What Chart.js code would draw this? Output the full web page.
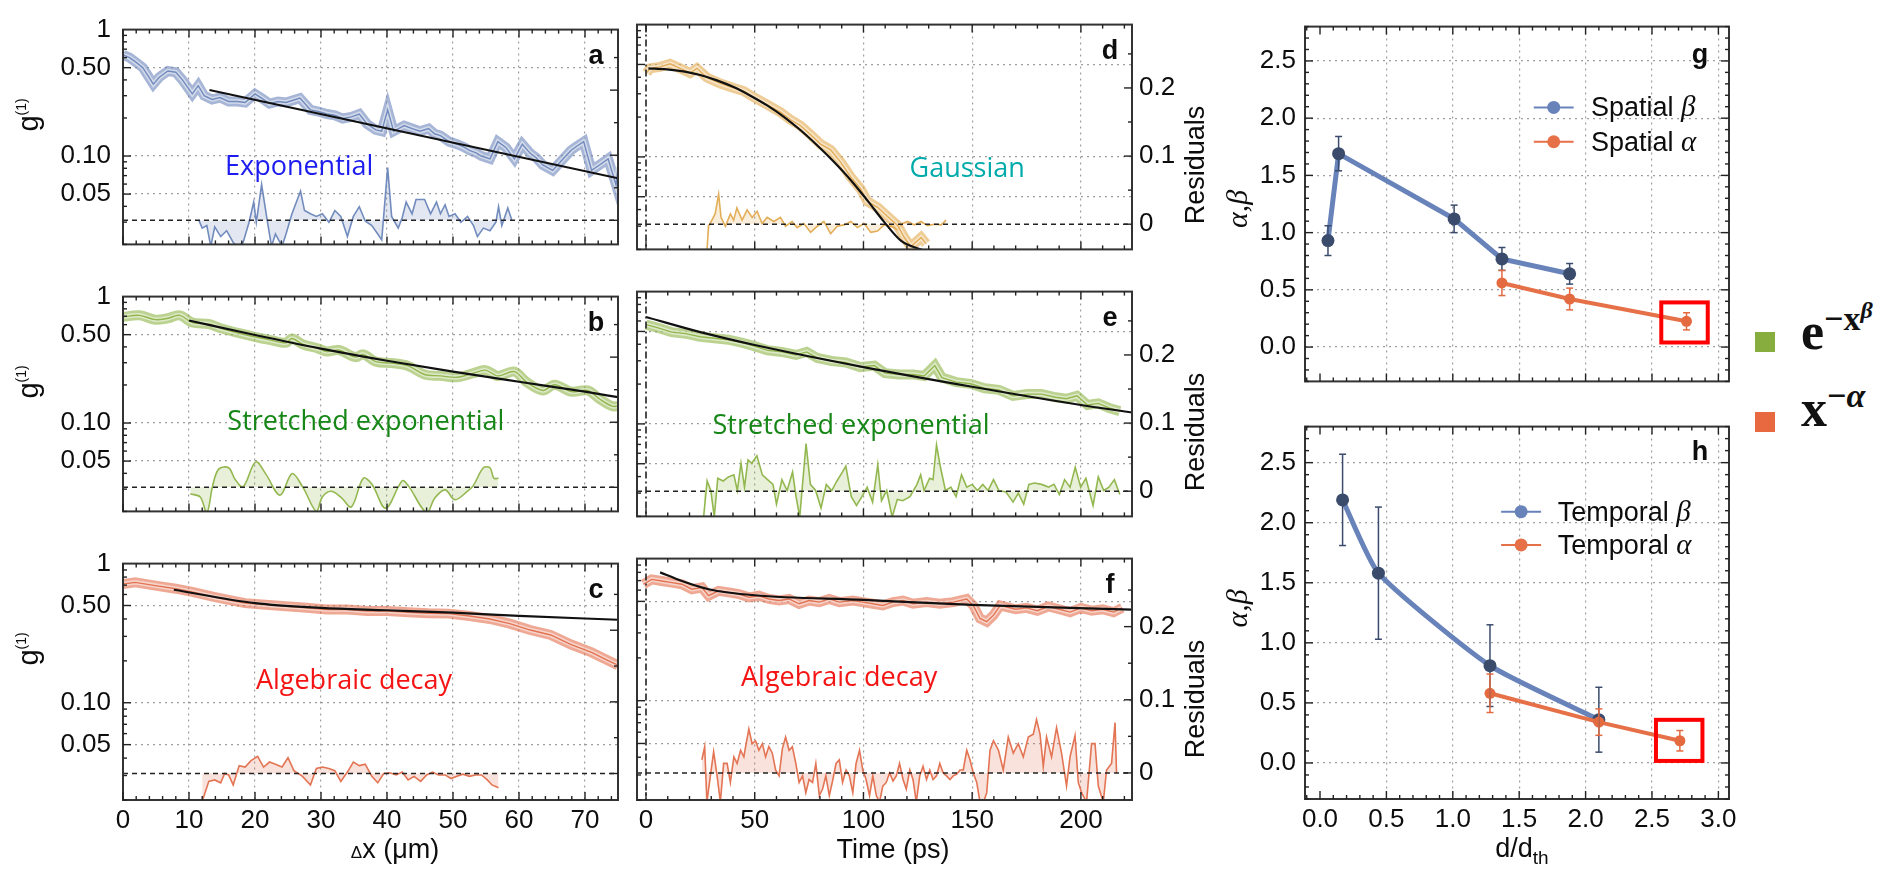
<!DOCTYPE html>
<html>
<head>
<meta charset="utf-8">
<script src="https://cdn.jsdelivr.net/npm/chart.js@4.4.1/dist/chart.umd.min.js"></script>
<style>
  html, body { margin: 0; padding: 0; background: #fff; }
  body { width: 1895px; height: 870px; position: relative; overflow: hidden; }
  canvas { position: absolute; }
  .sw { position: absolute; width: 20px; height: 20px; }
  .kt { position: absolute; font: bold 52px 'Liberation Serif', 'DejaVu Serif', serif; line-height: 52px; color: #111; white-space: nowrap; }
  .kt .s1 { font-size: 34px; position: relative; top: -19px; }
  .kt .s2 { font-size: 24px; position: relative; top: -12px; font-style: italic; }
</style>
</head>
<body>
<canvas id="pa"></canvas>
<canvas id="pb"></canvas>
<canvas id="pc"></canvas>
<canvas id="pd"></canvas>
<canvas id="pe"></canvas>
<canvas id="pf"></canvas>
<canvas id="pg"></canvas>
<canvas id="ph"></canvas>

<div class="sw" style="left:1755px;top:332px;background:#86ad3e"></div>
<div class="sw" style="left:1755px;top:412px;background:#e8693f"></div>
<div class="kt" style="left:1801px;top:306px">e<span class="s1">−x<span class="s2">β</span></span></div>
<div class="kt" style="left:1801px;top:383px">x<span class="s1">−<i>α</i></span></div>

<script>
// ---- values ----
// tick values
const gTicks = [0.05, 0.1, 0.5, 1];
const resTicks = [0, 0.1, 0.2];

// a: exponential (spatial)
const aX = [0, 1, 2, 3, 4.6, 5.5, 6.8, 8, 9, 10.5, 11.4, 12.3, 13.5, 14.7, 16, 17.3, 18.5, 20, 21, 22.2,
  23.5, 24.7, 26.8, 28.4, 29.6, 30.9, 32.1, 33.3, 34.6, 35.8, 37, 38.3, 39.2, 40.1, 41, 42.6, 43.8, 45, 46.3, 47.2,
  48.1, 49.4, 50.6, 51.6, 52.5, 53.5, 54.3, 55.6, 56.8, 58, 59.3, 60.5, 61.7, 62.6, 63.6, 65.1, 66.7, 67.9, 68.8, 69.8,
  71, 72.2, 73.5, 74.7, 75];
const aG = [0.63, 0.60, 0.55, 0.50, 0.37, 0.42, 0.47, 0.46, 0.40, 0.31, 0.36, 0.30, 0.28, 0.29, 0.27, 0.27, 0.265, 0.31, 0.287, 0.26,
  0.27, 0.265, 0.287, 0.232, 0.225, 0.215, 0.21, 0.198, 0.204, 0.215, 0.179, 0.161, 0.157, 0.232, 0.157, 0.174, 0.165, 0.157, 0.165, 0.150,
  0.145, 0.130, 0.124, 0.118, 0.111, 0.106, 0.100, 0.095, 0.130, 0.117, 0.095, 0.124, 0.105, 0.097, 0.085, 0.077, 0.095, 0.111, 0.120, 0.130,
  0.077, 0.085, 0.095, 0.059, 0.081];
const aFitX = [13.1, 75];
const aFitG = [0.333, 0.0667];
const aResX = [11.5, 12.0, 12.7, 13.3, 13.9, 14.8, 15.7, 16.7, 17.3, 18.2,
  19.1, 19.8, 20.2, 21.0, 21.9, 22.5, 23.1, 24.1, 24.7, 25.6,
  26.9, 27.5, 28.4, 29.3, 30.2, 31.2, 32.1, 33.0, 34.0, 34.9,
  35.8, 36.7, 37.7, 38.6, 39.2, 40.1, 40.7, 41.7, 42.3, 42.9,
  43.8, 44.4, 45.7, 46.6, 47.5, 48.1, 48.8, 49.4, 50.3, 51.2,
  52.2, 53.1, 53.7, 54.6, 55.6, 56.5, 56.9, 57.4, 58.3, 58.9];
const aRes = [0, -0.012, -0.008, -0.04, -0.010, -0.025, -0.016, -0.034, -0.04, -0.034,
  -0.003, 0.028, -0.003, 0.055, -0.003, -0.04, -0.021, -0.04, -0.021, 0.010,
  0.045, 0.015, 0.010, 0.006, 0.010, -0.003, 0.015, 0.006, -0.025, 0.006,
  0.021, -0.001, -0.008, -0.021, -0.030, 0.081, 0.006, -0.012, 0.004, 0.028,
  0.010, 0.032, 0.032, 0.010, 0.028, 0.010, 0.024, 0.006, 0.010, -0.003,
  0.006, -0.008, -0.025, -0.012, -0.016, -0.003, 0.021, -0.008, 0.019, 0.001];

// b: stretched exponential (spatial)
const bX = [0, 2.5, 4.9, 6.8, 8.6, 10.5, 13.0, 14.8, 17.3, 20.1,
  22.2, 24.7, 25.6, 27.2, 29.6, 30.9, 32.7, 35.2, 36.4, 38.3,
  40.7, 43.2, 45.7, 48.1, 50.6, 53.1, 54.9, 56.8, 59.3, 61.1,
  63.6, 65.4, 67.9, 70.4, 72.2, 74.1, 75];
const bG = [0.692, 0.711, 0.657, 0.674, 0.711, 0.623, 0.607, 0.561, 0.518, 0.479,
  0.455, 0.431, 0.466, 0.420, 0.388, 0.368, 0.378, 0.332, 0.349, 0.306,
  0.298, 0.283, 0.242, 0.236, 0.230, 0.248, 0.262, 0.236, 0.255, 0.212,
  0.181, 0.201, 0.177, 0.181, 0.155, 0.136, 0.136];
const bFitX = [10, 20, 30, 40, 50, 60, 70, 75];
const bFitG = [0.647, 0.497, 0.388, 0.311, 0.255, 0.212, 0.177, 0.16];
const bResX = [10.2, 11.7, 12.7, 13.6, 14.5, 16.0, 17.0, 18.2, 20.1, 21.6,
  23.8, 25.6, 27.2, 29.3, 30.2, 31.5, 33.0, 34.6, 36.4, 37.7,
  39.8, 42.3, 43.2, 46.0, 47.2, 48.8, 50.3, 52.2, 53.1, 54.6,
  55.6, 56.2, 56.9];
const bRes = [-0.010, -0.015, -0.039, 0.003, 0.028, 0.030, 0.012, 0.001, 0.039, 0.021,
  -0.012, 0.021, 0.001, -0.037, -0.015, -0.006, -0.015, -0.030, 0.014, 0.005,
  -0.032, 0.010, 0.003, -0.039, -0.017, -0.004, -0.019, -0.006, 0.003, 0.030,
  0.030, 0.014, 0.014];

// c: algebraic decay (spatial)
const cX = [0, 1.85, 4.9, 8.0, 10.5, 13.6, 16.0, 18.5, 21.6, 24.7,
  27.8, 30.9, 34.0, 37.0, 40.1, 43.2, 46.3, 49.4, 52.5, 55.6,
  58.6, 61.7, 64.8, 67.9, 71.0, 73.5, 75];
const cG = [0.714, 0.733, 0.695, 0.660, 0.626, 0.578, 0.548, 0.520, 0.507, 0.494,
  0.481, 0.468, 0.468, 0.456, 0.456, 0.447, 0.440, 0.437, 0.42, 0.40,
  0.37, 0.333, 0.307, 0.262, 0.230, 0.201, 0.186];
const cFitX = [7.7, 20, 30, 40, 50, 60, 75];
const cFitG = [0.649, 0.52, 0.481, 0.462, 0.444, 0.421, 0.395];
const cResX = [12.0, 13.0, 13.9, 14.8, 15.4, 16.0, 16.7, 17.6, 18.5, 19.4,
  20.4, 21.3, 22.2, 23.1, 24.1, 25.0, 25.9, 27.2, 28.4, 29.3,
  30.2, 31.2, 32.1, 33.0, 34.0, 34.9, 35.8, 36.7, 37.7, 38.6,
  39.5, 40.4, 41.4, 42.3, 43.2, 44.1, 45.1, 46.0, 46.9, 47.8,
  48.8, 49.7, 50.6, 51.5, 52.5, 53.4, 54.3, 55.2, 55.9, 56.9];
const cRes = [-0.039, -0.011, -0.009, -0.013, 0, -0.002, -0.016, 0.011, 0.009, 0.018,
  0.024, 0.009, 0.016, 0.013, 0.009, 0.022, 0.004, -0.004, -0.016, 0.007,
  0.009, 0.007, 0.004, -0.011, 0.002, 0.016, 0.011, 0.013, -0.004, -0.013,
  0, 0.001, -0.002, 0.002, -0.009, -0.004, -0.011, -0.002, 0.002, -0.002,
  -0.002, -0.007, -0.004, -0.001, -0.004, -0.002, -0.002, -0.009, -0.016, -0.020];

// d: gaussian (temporal)
const dT = [0.3, 1.8, 6.5, 11.1, 15.7, 20.3, 23.4, 28, 34.2, 40.3,
  44.9, 49.5, 55.7, 61.8, 66.5, 71.1, 75.7, 80.3, 84.9, 89.5,
  94.2, 98.8, 101.8, 106.5, 111.1, 115.7, 118.8, 121.8, 126.5, 128.8];
const dG = [0.431, 0.467, 0.479, 0.505, 0.467, 0.431, 0.467, 0.398, 0.359, 0.332,
  0.315, 0.283, 0.248, 0.218, 0.191, 0.172, 0.147, 0.125, 0.113, 0.0914,
  0.0703, 0.057, 0.0461, 0.0416, 0.0355, 0.0303, 0.0246, 0.021, 0.0246, 0.0221];
const dFitT = [1.1, 9.5, 17.2, 24.9, 32.6, 40.3, 48, 55.7, 63.4, 71.1, 78.8, 86.5, 94.2, 101.8, 109.5, 117.2, 128];
const dFitG = [0.467, 0.459, 0.443, 0.416, 0.379, 0.337, 0.29, 0.245, 0.201, 0.159, 0.122, 0.0915, 0.0667, 0.0469, 0.0323, 0.0233, 0.0195];
const dResT = [28.0, 28.8, 30.3, 31.8, 33.4, 34.5, 36.5, 38.8, 40.3, 41.8,
  44.2, 46.5, 48.8, 51.1, 53.4, 55.7, 58.8, 61.8, 64.2, 67.2,
  69.5, 72.6, 75.7, 78.8, 81.8, 84.9, 88.0, 91.1, 94.2, 97.2,
  100.3, 103.4, 106.5, 109.5, 112.6, 115.7, 118.0, 120.3, 123.4, 126.5,
  129.5, 132.6, 135.7, 138.0];
const dRes = [-0.04, -0.003, 0.006, 0.015, 0.044, 0.010, -0.003, 0.015, 0.006, 0.024,
  0.006, 0.021, 0.010, 0.019, 0.001, 0.010, 0.004, 0.010, -0.003, 0.004,
  -0.005, 0.001, -0.012, -0.003, 0.004, -0.014, -0.003, -0.001, 0.004, -0.005,
  0.001, -0.012, -0.010, -0.001, -0.003, -0.008, 0.001, 0.004, -0.001, 0.004,
  -0.002, 0, -0.001, 0.006];

// e: stretched exponential (temporal)
const eT = [0, 5.2, 11.8, 18.3, 24.9, 31.4, 37.9, 44.5, 49.4, 55.9,
  62.5, 69.0, 73.9, 78.8, 85.4, 91.9, 98.5, 105.0, 109.9, 116.5,
  123.0, 127.9, 132.8, 136.1, 142.6, 149.2, 155.7, 162.3, 168.8, 175.3,
  181.9, 188.4, 193.3, 198.2, 203.1, 208.0, 213.0, 217.9];
const eG = [0.563, 0.534, 0.494, 0.481, 0.456, 0.444, 0.433, 0.410, 0.389, 0.360,
  0.350, 0.332, 0.350, 0.315, 0.299, 0.291, 0.269, 0.276, 0.242, 0.236,
  0.236, 0.230, 0.276, 0.224, 0.207, 0.201, 0.186, 0.181, 0.163, 0.168,
  0.168, 0.159, 0.155, 0.163, 0.139, 0.143, 0.132, 0.125];
const eFitT = [0, 25, 50, 100, 150, 200, 223.5];
const eFitG = [0.643, 0.494, 0.395, 0.269, 0.191, 0.139, 0.122];
const eResT = [26.5, 28.1, 29.8, 31.4, 33.0, 35.5, 37.9, 40.4, 42.0, 43.7,
  45.3, 46.9, 48.6, 51.0, 53.5, 55.9, 58.4, 60.0, 62.5, 64.9,
  67.4, 69.0, 70.7, 73.6, 75.6, 78.0, 80.5, 82.9, 85.4, 87.8,
  90.3, 91.9, 94.4, 96.8, 99.3, 101.7, 104.2, 106.6, 108.3, 110.7,
  113.2, 115.6, 118.1, 121.4, 124.6, 126.3, 127.9, 130.4, 132.0, 133.6,
  135.3, 137.7, 140.2, 142.6, 145.1, 147.5, 150.0, 152.4, 154.9, 157.3,
  159.8, 162.3, 165.5, 168.8, 171.2, 173.7, 176.1, 178.6, 181.9, 185.1,
  187.6, 190.1, 192.5, 195.0, 197.4, 199.9, 202.3, 205.6, 208.0, 210.5,
  212.9, 215.4, 217.9];
const eRes = [-0.038, 0.015, 0.001, -0.038, 0.019, 0.015, 0.021, 0.024, 0.001, 0.041,
  0.006, 0.046, 0.041, 0.052, 0.024, 0.017, 0.010, -0.019, 0.017, 0.001,
  0.028, -0.008, -0.038, 0.070, 0.010, 0.001, -0.025, 0.010, 0.001, 0.015,
  0.028, 0.037, -0.008, -0.021, -0.008, 0.006, -0.016, 0.039, -0.014, 0.001,
  -0.038, -0.012, -0.014, -0.008, 0.010, 0.024, 0.001, 0.019, 0.017, 0.068,
  0.037, 0.001, 0.006, -0.008, 0.024, 0.006, 0.010, 0.001, 0.010, 0.001,
  0.017, 0.001, -0.001, -0.016, -0.003, -0.019, 0.010, 0.012, 0.010, 0.006,
  0.010, -0.005, 0.017, 0.006, 0.035, 0.006, 0.019, -0.021, 0.021, 0.001,
  0.006, 0.017, -0.005];

// f: algebraic decay (temporal)
const fT = [-1.2, 2.6, 7.2, 11.9, 16.5, 21.1, 25.7, 28.8, 33.4, 38.1,
  42.7, 47.3, 51.9, 56.5, 61.2, 65.8, 70.4, 75.0, 79.7, 84.3,
  88.9, 95.1, 99.7, 104.3, 108.9, 113.6, 118.2, 122.8, 129.0, 135.1,
  141.3, 147.5, 150.5, 153.6, 156.7, 159.8, 162.9, 165, 170, 175,
  180, 185, 190, 195, 200, 205, 210, 215, 219];
const fG = [0.660, 0.714, 0.695, 0.677, 0.660, 0.609, 0.626, 0.548, 0.593, 0.578,
  0.563, 0.534, 0.548, 0.520, 0.507, 0.520, 0.481, 0.507, 0.494, 0.520,
  0.494, 0.507, 0.494, 0.481, 0.468, 0.494, 0.507, 0.481, 0.494, 0.481,
  0.494, 0.520, 0.468, 0.379, 0.360, 0.400, 0.468, 0.46, 0.44, 0.45,
  0.43, 0.46, 0.44, 0.42, 0.45, 0.43, 0.44, 0.42, 0.45];
const fFitT = [6.5, 16.5, 28.8, 50, 100, 150, 223.5];
const fFitG = [0.80, 0.695, 0.609, 0.552, 0.512, 0.473, 0.438];
const fResT = [25.7, 27.0, 28.0, 29.6, 31.1, 32.7, 34.2, 35.7, 37.3, 38.8,
  40.4, 41.9, 43.5, 45.0, 45.8, 47.3, 48.8, 50.4, 51.9, 53.5,
  55.0, 56.5, 58.1, 59.6, 61.2, 62.7, 64.2, 65.8, 67.3, 68.9,
  70.4, 72.0, 73.5, 75.0, 76.6, 78.1, 79.7, 81.2, 82.7, 84.3,
  85.8, 87.4, 88.9, 90.4, 92.0, 93.5, 95.1, 96.6, 98.2, 99.7,
  101.2, 102.8, 104.3, 105.9, 107.4, 108.9, 110.5, 112.0, 113.6, 115.1,
  116.6, 118.2, 119.7, 121.3, 122.8, 124.3, 125.9, 127.4, 129.0, 130.5,
  132.0, 133.6, 135.1, 136.7, 138.2, 139.8, 141.3, 142.8, 144.4, 145.9,
  147.5, 149.0, 150.5, 152.1, 153.6, 155.2, 156.7, 158.2, 159.8, 162.1,
  164.3, 166.6, 168.9, 171.2, 173.5, 175.8, 178.1, 179.6, 181.2, 182.7,
  184.2, 186.5, 188.8, 191.1, 193.4, 195.0, 197.3, 198.8, 200.3, 202.6,
  204.9, 206.5, 208.0, 210.3, 211.8, 214.1, 215.7, 216.4];
const fRes = [0.018, 0.036, -0.04, -0.004, 0.029, -0.004, -0.04, 0.013, 0.013, -0.013,
  0.022, 0.013, 0.031, 0.022, 0.036, 0.060, 0.040, 0.044, 0.031, 0.040,
  0.022, 0.036, 0.027, 0.004, -0.004, 0.033, 0.049, 0.031, 0.036, 0.013,
  -0.013, -0.004, -0.027, -0.009, -0.013, 0.013, -0.031, -0.022, -0.004, -0.031,
  -0.011, 0.013, 0.018, -0.013, 0.004, -0.004, -0.027, 0.013, 0.031, 0.004,
  -0.009, -0.031, -0.004, -0.031, -0.04, -0.018, -0.013, 0, -0.011, -0.004,
  0.013, -0.009, -0.022, 0.004, -0.009, -0.04, -0.004, 0.009, -0.009, 0.004,
  -0.009, -0.004, 0.013, 0, -0.004, -0.009, -0.004, -0.002, 0.004, 0.004,
  0.031, 0.018, 0, -0.013, -0.04, -0.04, -0.027, 0.031, 0.044, 0.031,
  0.004, 0.049, 0.027, 0.040, 0.022, 0.049, 0.053, 0.073, 0.053, 0.009,
  0.049, 0.022, 0.062, 0.027, -0.018, 0.022, 0.051, -0.013, -0.027, -0.04,
  0.040, 0.040, -0.018, -0.04, 0.004, 0.013, 0.069, 0];

// g: spatial exponents vs d/d_th
const gBetaX = [0.06, 0.14, 1.01, 1.37, 1.88];
const gBeta = [0.93, 1.69, 1.12, 0.77, 0.64];
const gBetaErr = [0.13, 0.15, 0.12, 0.10, 0.09];
const gAlphaX = [1.37, 1.88, 2.76];
const gAlpha = [0.56, 0.42, 0.225];
const gAlphaErr = [0.11, 0.095, 0.075];
// h: temporal exponents vs d/d_th
const hBetaX = [0.17, 0.44, 1.28, 2.10];
const hBeta = [2.19, 1.58, 0.81, 0.36];
const hBetaErr = [0.38, 0.55, 0.34, 0.27];
const hAlphaX = [1.28, 2.10, 2.71];
const hAlpha = [0.58, 0.34, 0.185];
const hAlphaErr = [0.16, 0.11, 0.085];

// ---- styling ----
const SANS = "'Liberation Sans', Arial, sans-serif";
const SERIF = "'Liberation Serif', 'DejaVu Serif', serif";
const NOTE = "'Open Sans', sans-serif";
const INK = '#0d0d0d';
const GRID = 'rgba(80,80,80,0.55)';
const CLEAR = 'rgba(0,0,0,0)';
const BLUE = [108, 134, 186], GREEN = [142, 180, 72], GOLD = [226, 170, 80], RED = [226, 110, 76];
const LINE_B = 'rgb(104,131,186)', NAVY = 'rgb(58,75,108)', LINE_O = 'rgb(230,112,72)', ORANGE = 'rgb(228,106,64)';
const ROWS = [18, 285, 552];

const rgba = (c, a) => `rgba(${c[0]},${c[1]},${c[2]},${a})`;
const pts = (xs, ys) => xs.slice(0, Math.min(xs.length, ys.length)).map((x, i) => ({ x: x, y: ys[i] }));

function rich(ctx, parts, x, y, rot, align) {
  ctx.save();
  ctx.translate(x, y);
  if (rot) ctx.rotate(rot);
  ctx.fillStyle = INK;
  ctx.textAlign = 'left';
  ctx.textBaseline = 'alphabetic';
  let w = 0;
  parts.forEach(p => { ctx.font = p.f; w += ctx.measureText(p.t).width; });
  let cx = align === 'left' ? 0 : -w / 2;
  parts.forEach(p => { ctx.font = p.f; ctx.fillText(p.t, cx, p.dy || 0); cx += ctx.measureText(p.t).width; });
  ctx.restore();
}

function seg(ctx, x1, y1, x2, y2) {
  ctx.beginPath(); ctx.moveTo(x1, y1); ctx.lineTo(x2, y2); ctx.stroke();
}

function steps(min, max, step) {
  const out = [];
  for (let v = Math.ceil(min / step - 1e-9) * step; v <= max + 1e-9; v += step) out.push(+v.toFixed(6));
  return out;
}
const isMult = (v, m) => Math.abs(v / m - Math.round(v / m)) < 1e-6;

// per-canvas extras: frame, inward ticks, reference lines, labels
const extras = {};
const deco = {
  id: 'deco',
  afterDatasetsDraw(chart) {
    const e = extras[chart.canvas.id];
    if (!e) return;
    const { ctx, chartArea: ca, scales } = chart;
    const ox = chart.canvas.offsetLeft, oy = chart.canvas.offsetTop;
    ctx.save();
    ctx.strokeStyle = '#222';
    ctx.lineWidth = 1.6;
    if (e.zero) {
      const y = scales.res.getPixelForValue(0);
      ctx.setLineDash([5, 4]);
      seg(ctx, ca.left, y, ca.right, y);
    }
    if (e.vzero) {
      const x = scales.x.getPixelForValue(0);
      ctx.setLineDash([7, 3, 2, 3]);
      seg(ctx, x, ca.top, x, ca.bottom);
    }
    ctx.setLineDash([]);

    if (e.err) {
      chart.data.datasets.forEach(ds => {
        if (!ds.errs) return;
        ctx.strokeStyle = ds.errColor;
        ctx.lineWidth = 1.5;
        ds.data.forEach((p, j) => {
          const x = scales.x.getPixelForValue(p.x);
          const y1 = scales.y.getPixelForValue(p.y - ds.errs[j]);
          const y2 = scales.y.getPixelForValue(p.y + ds.errs[j]);
          seg(ctx, x, y1, x, y2);
          seg(ctx, x - 3.5, y1, x + 3.5, y1);
          seg(ctx, x - 3.5, y2, x + 3.5, y2);
        });
      });
    }

    if (e.box) {
      const b = e.box;
      const x1 = scales.x.getPixelForValue(b.x1), x2 = scales.x.getPixelForValue(b.x2);
      const y1 = scales.y.getPixelForValue(b.y2), y2 = scales.y.getPixelForValue(b.y1);
      ctx.strokeStyle = 'rgb(255,0,0)';
      ctx.lineWidth = 4;
      ctx.strokeRect(x1, y1, x2 - x1, y2 - y1);
    }

    if (e.legend) {
      const L = e.legend;
      L.items.forEach(it => {
        const y = scales.y.getPixelForValue(it.y);
        const x1 = scales.x.getPixelForValue(L.x1), x2 = scales.x.getPixelForValue(L.x2);
        ctx.strokeStyle = it.color; ctx.lineWidth = 2;
        seg(ctx, x1, y, x2, y);
        ctx.fillStyle = it.color;
        ctx.beginPath(); ctx.arc((x1 + x2) / 2, y, 6.5, 0, Math.PI * 2); ctx.fill();
        rich(ctx, [{ t: it.label, f: `27px ${SANS}` }, { t: it.greek, f: `italic 29px ${SERIF}` }],
          scales.x.getPixelForValue(L.xt), y + 9, 0, 'left');
      });
    }

    // frame
    ctx.strokeStyle = '#333';
    ctx.lineWidth = 2;
    ctx.strokeRect(ca.left, ca.top, ca.right - ca.left, ca.bottom - ca.top);

    // inward ticks
    ctx.lineWidth = 1.4;
    ctx.strokeStyle = '#222';
    const xs = scales.x;
    steps(xs.min, xs.max, e.xMinor).forEach(v => {
      const x = xs.getPixelForValue(v);
      const len = isMult(v, e.xMajor) ? 8 : 4;
      seg(ctx, x, ca.bottom, x, ca.bottom - len);
      seg(ctx, x, ca.top, x, ca.top + len);
    });
    const ys = scales.y;
    if (e.logY) {
      [0.01, 0.1].forEach(d => {
        for (let k = 1; k <= 9; k++) {
          const v = +(k * d).toFixed(4);
          if (v < ys.min || v > ys.max) continue;
          const y = ys.getPixelForValue(v);
          const len = gTicks.indexOf(v) >= 0 ? 8 : 4;
          seg(ctx, ca.left, y, ca.left + len, y);
        }
      });
      const rs = scales.res;
      steps(rs.min, rs.max, 0.05).forEach(v => {
        const y = rs.getPixelForValue(v);
        const len = isMult(v, 0.1) ? 8 : 4;
        seg(ctx, ca.right, y, ca.right - len, y);
      });
    } else {
      steps(ys.min, ys.max, e.yMinor).forEach(v => {
        const y = ys.getPixelForValue(v);
        const len = isMult(v, e.yMajor) ? 8 : 4;
        seg(ctx, ca.left, y, ca.left + len, y);
        seg(ctx, ca.right, y, ca.right - len, y);
      });
    }

    // panel letter
    if (e.letter) {
      ctx.fillStyle = INK;
      ctx.font = `bold 27px ${SANS}`;
      ctx.textAlign = 'center';
      ctx.textBaseline = 'middle';
      ctx.fillText(e.letter, ca.right - e.letterDx, ca.top + e.letterDy);
    }

    // decay-law note
    if (e.note) {
      ctx.fillStyle = e.note.color;
      ctx.font = `27px ${NOTE}`;
      ctx.textAlign = 'center';
      ctx.textBaseline = 'middle';
      ctx.fillText(e.note.text, xs.getPixelForValue(e.note.x), ys.getPixelForValue(e.note.y));
    }

    // axis titles (page coordinates)
    (e.titles || []).forEach(t => rich(ctx, t.parts, t.x - ox, t.y - oy, t.rot || 0));
    ctx.restore();
  }
};

function decayPanel(p) {
  const mid = p.col === 'mid';
  const bottom = p.row === 2;
  const yW = mid ? 10 : 123, rW = mid ? 78 : 0, padR = mid ? 0 : 10;
  const cv = document.getElementById(p.id);
  cv.width = yW + 495 + rW + padR;
  cv.height = 16 + 248 + (bottom ? 70 : 6);
  cv.style.left = (mid ? 627 : 0) + 'px';
  cv.style.top = (ROWS[p.row] - 16) + 'px';

  const titles = [];
  if (!mid) {
    titles.push({ parts: [{ t: 'g', f: `29px ${SANS}` }, { t: '(1)', f: `14px ${SANS}`, dy: -12 }],
      x: 38, y: ROWS[p.row] + 97, rot: -Math.PI / 2 });
  } else {
    titles.push({ parts: [{ t: 'Residuals', f: `27px ${SANS}` }], x: 1204, y: ROWS[p.row] + 147, rot: -Math.PI / 2 });
  }
  if (p.xTitle) titles.push(p.xTitle);
  extras[p.id] = { zero: true, vzero: mid, xMinor: mid ? 10 : 2, xMajor: mid ? 50 : 10, logY: true,
    letter: p.letter, letterDx: 22, letterDy: 27, note: p.note, titles: titles };

  const c = p.color;
  const tick = { family: SANS, size: 26 };
  new Chart(cv, {
    type: 'line',
    data: {
      datasets: [
        { data: pts(p.fitX, p.fitY), borderColor: '#111', borderWidth: 2.2, pointRadius: 0, order: 0,
          cubicInterpolationMode: 'monotone', clip: 0 },
        { data: pts(p.x, p.y), borderColor: rgba(c, 0.95), borderWidth: 1.4, pointRadius: 0, order: 1,
          tension: p.tension || 0, clip: 0 },
        { data: pts(p.x, p.y), borderColor: 'rgba(255,255,255,0.5)', borderWidth: 4.5, pointRadius: 0, order: 2,
          tension: p.tension || 0, clip: 0 },
        { data: pts(p.x, p.y), borderColor: rgba(c, 0.6), borderWidth: 10, pointRadius: 0, order: 3,
          tension: p.tension || 0, clip: 0 },
        { data: pts(p.resX, p.res), yAxisID: 'res', borderColor: rgba(c, 0.95), borderWidth: 1.6, pointRadius: 0,
          order: 4, tension: p.tension || 0, fill: { value: 0 }, backgroundColor: rgba(c, 0.2), clip: 0 }
      ]
    },
    options: {
      responsive: false,
      animation: false,
      events: [],
      layout: { padding: { top: 16, left: 0, right: padR, bottom: bottom ? 0 : 6 } },
      plugins: { legend: { display: false }, tooltip: { enabled: false } },
      scales: {
        x: {
          type: 'linear', min: mid ? -4.14 : 0, max: mid ? 223.5 : 75,
          ticks: { stepSize: mid ? 50 : 10, includeBounds: false, display: bottom, maxRotation: 0,
            autoSkip: false, padding: 5, font: tick, color: INK },
          grid: { drawTicks: false, lineWidth: 1.2,
            color: g => (g.tick && Math.abs(g.tick.value) < 1e-9) ? CLEAR : GRID },
          border: { display: false, dash: [2, 4] },
          afterFit: s => { s.height = bottom ? 70 : 0; }
        },
        y: {
          type: 'logarithmic', position: 'left', min: 0.02, max: 1,
          afterBuildTicks: s => { s.ticks = gTicks.map(v => ({ value: v })); },
          ticks: { display: !mid, font: tick, color: INK, padding: 12,
            callback: v => (v === 1 ? '1' : Number(v).toFixed(2)) },
          grid: { drawTicks: false, lineWidth: 1.2,
            color: g => (g.tick && g.tick.value === 1) ? CLEAR : GRID },
          border: { display: false, dash: [2, 4] },
          afterFit: s => { s.width = yW; }
        },
        res: {
          type: 'linear', axis: 'y', position: 'right', min: -0.037, max: 0.293, display: mid,
          afterBuildTicks: s => { s.ticks = resTicks.map(v => ({ value: v })); },
          ticks: { font: tick, color: INK, padding: 7,
            callback: v => (v === 0 ? '0' : Number(v).toFixed(1)) },
          grid: { display: false, drawTicks: false },
          border: { display: false },
          afterFit: s => { s.width = rW; }
        }
      }
    },
    plugins: [deco]
  });
}

function ratioPanel(p) {
  const bottom = p.id === 'ph';
  const frameTop = bottom ? 418 : 18, frameH = bottom ? 381 : 382;
  const cv = document.getElementById(p.id);
  cv.width = 80 + 424 + 16;
  cv.height = 16 + frameH + (bottom ? 70 : 6);
  cv.style.left = '1225px';
  cv.style.top = (frameTop - 16) + 'px';
  const titles = [{ parts: [{ t: 'α,β', f: `italic 30px ${SERIF}` }], x: 1247, y: frameTop + frameH / 2, rot: -Math.PI / 2 }];
  if (bottom) {
    titles.push({ parts: [{ t: 'd/d', f: `27px ${SANS}` }, { t: 'th', f: `19px ${SANS}`, dy: 7 }], x: 1522, y: 857 });
  }
  extras[p.id] = {
    err: true, xMinor: 0.1, xMajor: 0.5, yMinor: 0.1, yMajor: 0.5,
    letter: p.letter, letterDx: 29, letterDy: bottom ? 26 : 29,
    box: p.box, legend: p.legend, titles: titles
  };
  const tick = { family: SANS, size: 26 };
  new Chart(cv, {
    type: 'line',
    data: {
      datasets: [
        { data: pts(p.bx, p.b), borderColor: LINE_B, borderWidth: 5, pointRadius: 6.5, pointBackgroundColor: NAVY,
          pointBorderWidth: 0, tension: p.curve ? 0.18 : 0, errs: p.be, errColor: NAVY, order: 1 },
        { data: pts(p.ax, p.a), borderColor: LINE_O, borderWidth: 4, pointRadius: 5.5, pointBackgroundColor: ORANGE,
          pointBorderWidth: 0, errs: p.ae, errColor: ORANGE, order: 0 }
      ]
    },
    options: {
      responsive: false,
      animation: false,
      events: [],
      layout: { padding: { top: 16, left: 0, right: 16, bottom: bottom ? 0 : 6 } },
      plugins: { legend: { display: false }, tooltip: { enabled: false } },
      scales: {
        x: {
          type: 'linear', min: -0.113, max: 3.08,
          ticks: { stepSize: 0.5, includeBounds: false, display: bottom, maxRotation: 0, autoSkip: false,
            padding: 5, font: tick, color: INK, callback: v => Number(v).toFixed(1) },
          grid: { drawTicks: false, lineWidth: 1.2,
            color: g => (g.tick && Math.abs(g.tick.value) < 1e-9) ? CLEAR : GRID },
          border: { display: false, dash: [2, 4] },
          afterFit: s => { s.height = bottom ? 70 : 0; }
        },
        y: {
          type: 'linear', min: -0.3, max: 2.8,
          ticks: { stepSize: 0.5, includeBounds: false, font: tick, color: INK, padding: 9,
            callback: v => Number(v).toFixed(1) },
          grid: { drawTicks: false, lineWidth: 1.2, color: GRID },
          border: { display: false, dash: [2, 4] },
          afterFit: s => { s.width = 80; }
        }
      }
    },
    plugins: [deco]
  });
}

decayPanel({ id: 'pa', col: 'left', row: 0, color: BLUE, x: aX, y: aG, fitX: aFitX, fitY: aFitG,
  resX: aResX, res: aRes, letter: 'a', note: { text: 'Exponential', x: 26.7, y: 0.081, color: 'rgb(28,28,240)' } });
decayPanel({ id: 'pb', col: 'left', row: 1, color: GREEN, x: bX, y: bG, fitX: bFitX, fitY: bFitG, tension: 0.35,
  resX: bResX, res: bRes, letter: 'b', note: { text: 'Stretched exponential', x: 36.8, y: 0.101, color: 'rgb(22,135,22)' } });
decayPanel({ id: 'pc', col: 'left', row: 2, color: RED, x: cX, y: cG, fitX: cFitX, fitY: cFitG,
  resX: cResX, res: cRes, letter: 'c', note: { text: 'Algebraic decay', x: 35, y: 0.143, color: 'rgb(245,20,20)' },
  xTitle: { parts: [{ t: 'Δ', f: `17px ${SANS}` }, { t: 'x (μm)', f: `27px ${SANS}` }], x: 395, y: 858 } });
decayPanel({ id: 'pd', col: 'mid', row: 0, color: GOLD, x: dT, y: dG, fitX: dFitT, fitY: dFitG,
  resX: dResT, res: dRes, letter: 'd', note: { text: 'Gaussian', x: 147.7, y: 0.081, color: 'rgb(0,170,170)' } });
decayPanel({ id: 'pe', col: 'mid', row: 1, color: GREEN, x: eT, y: eG, fitX: eFitT, fitY: eFitG,
  resX: eResT, res: eRes, letter: 'e', note: { text: 'Stretched exponential', x: 94.3, y: 0.0964, color: 'rgb(22,135,22)' } });
decayPanel({ id: 'pf', col: 'mid', row: 2, color: RED, x: fT, y: fG, fitX: fFitT, fitY: fFitG,
  resX: fResT, res: fRes, letter: 'f', note: { text: 'Algebraic decay', x: 88.8, y: 0.143, color: 'rgb(245,20,20)' },
  xTitle: { parts: [{ t: 'Time (ps)', f: `27px ${SANS}` }], x: 893, y: 858 } });

ratioPanel({ id: 'pg', letter: 'g', bx: gBetaX, b: gBeta, be: gBetaErr, ax: gAlphaX, a: gAlpha, ae: gAlphaErr,
  box: { x1: 2.57, x2: 2.92, y1: 0.04, y2: 0.39 },
  legend: { x1: 1.61, x2: 1.91, xt: 2.04, items: [
    { y: 2.094, label: 'Spatial ', greek: 'β', color: LINE_B },
    { y: 1.794, label: 'Spatial ', greek: 'α', color: LINE_O }] } });
ratioPanel({ id: 'ph', letter: 'h', curve: true, bx: hBetaX, b: hBeta, be: hBetaErr, ax: hAlphaX, a: hAlpha, ae: hAlphaErr,
  box: { x1: 2.53, x2: 2.88, y1: 0.017, y2: 0.359 },
  legend: { x1: 1.364, x2: 1.665, xt: 1.79, items: [
    { y: 2.092, label: 'Temporal ', greek: 'β', color: LINE_B },
    { y: 1.815, label: 'Temporal ', greek: 'α', color: LINE_O }] } });
</script>
</body>
</html>
